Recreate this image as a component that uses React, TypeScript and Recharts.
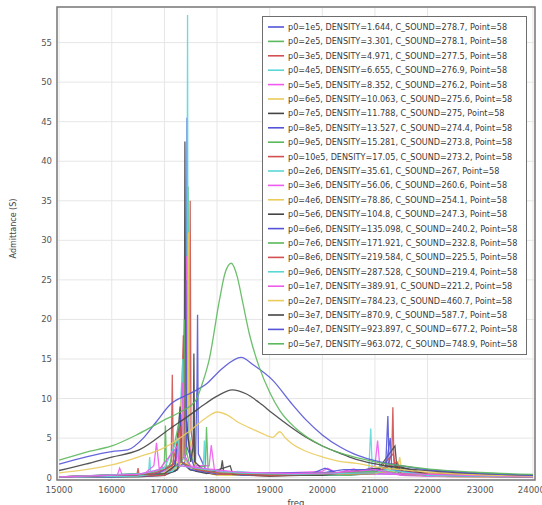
import { LineChart, Line, XAxis, YAxis, CartesianGrid, ReferenceArea } from 'recharts';

type Pt = [number, number];

// axis ticks
const xTicks = [15000, 16000, 17000, 18000, 19000, 20000, 21000, 22000, 23000, 24000];
const yTicks = [0, 5, 10, 15, 20, 25, 30, 35, 40, 45, 50, 55];

const seriesLabels = [
  'p0=1e5, DENSITY=1.644, C_SOUND=278.7, Point=58',
  'p0=2e5, DENSITY=3.301, C_SOUND=278.1, Point=58',
  'p0=3e5, DENSITY=4.971, C_SOUND=277.5, Point=58',
  'p0=4e5, DENSITY=6.655, C_SOUND=276.9, Point=58',
  'p0=5e5, DENSITY=8.352, C_SOUND=276.2, Point=58',
  'p0=6e5, DENSITY=10.063, C_SOUND=275.6, Point=58',
  'p0=7e5, DENSITY=11.788, C_SOUND=275, Point=58',
  'p0=8e5, DENSITY=13.527, C_SOUND=274.4, Point=58',
  'p0=9e5, DENSITY=15.281, C_SOUND=273.8, Point=58',
  'p0=10e5, DENSITY=17.05, C_SOUND=273.2, Point=58',
  'p0=2e6, DENSITY=35.61, C_SOUND=267, Point=58',
  'p0=3e6, DENSITY=56.06, C_SOUND=260.6, Point=58',
  'p0=4e6, DENSITY=78.86, C_SOUND=254.1, Point=58',
  'p0=5e6, DENSITY=104.8, C_SOUND=247.3, Point=58',
  'p0=6e6, DENSITY=135.098, C_SOUND=240.2, Point=58',
  'p0=7e6, DENSITY=171.921, C_SOUND=232.8, Point=58',
  'p0=8e6, DENSITY=219.584, C_SOUND=225.5, Point=58',
  'p0=9e6, DENSITY=287.528, C_SOUND=219.4, Point=58',
  'p0=1e7, DENSITY=389.91, C_SOUND=221.2, Point=58',
  'p0=2e7, DENSITY=784.23, C_SOUND=460.7, Point=58',
  'p0=3e7, DENSITY=870.9, C_SOUND=587.7, Point=58',
  'p0=4e7, DENSITY=923.897, C_SOUND=677.2, Point=58',
  'p0=5e7, DENSITY=963.072, C_SOUND=748.9, Point=58',
];

// matlab style colour order, a bit washed out like the scan
const colorOrder = ['#5454d8', '#5cb85c', '#d25050', '#5ad8d8', '#ee5cee', '#eacb5c', '#444444'];

// (freq, admittance)
const s1e5: Pt[] = [[15000, 0.1], [16000, 0.15], [16800, 0.3], [17200, 0.8], [17390, 2], [17420, 20], [17430, 45.5], [17445, 10], [17490, 2.5], [17590, 2], [17620, 12], [17630, 20.6], [17645, 3], [17800, 0.8], [18500, 0.4], [19500, 0.3], [20200, 0.7], [20400, 0.3], [21000, 0.5], [22500, 0.15], [24000, 0.05]];
const s2e5: Pt[] = [[15000, 0.1], [16500, 0.2], [16900, 0.6], [17000, 2], [17020, 6.6], [17040, 1.5], [17200, 1], [17420, 3], [17450, 36.8], [17470, 4], [17600, 1], [18000, 0.5], [19000, 0.3], [20500, 0.3], [21300, 0.8], [21500, 0.3], [24000, 0.05]];
const s3e5: Pt[] = [[15000, 0.1], [16000, 0.2], [16480, 0.4], [16500, 1.2], [16520, 0.3], [17000, 0.5], [17130, 2], [17150, 13], [17170, 2], [17350, 2.5], [17475, 10], [17490, 35], [17505, 6], [17600, 1], [18000, 0.4], [19000, 0.2], [21200, 0.8], [21320, 3], [21340, 8.9], [21360, 2], [21500, 0.5], [22000, 0.2], [24000, 0.05]];
const s4e5: Pt[] = [[15000, 0.05], [16000, 0.1], [16700, 0.6], [16720, 2.6], [16740, 0.6], [17300, 1.5], [17425, 8], [17440, 58.5], [17452, 6], [17600, 1.2], [17740, 1.5], [17760, 4.7], [17780, 1], [18200, 0.3], [19200, 0.4], [20000, 0.3], [20880, 0.5], [20920, 6.2], [20950, 0.8], [21300, 1.2], [22000, 0.2], [24000, 0.05]];
const s5e5: Pt[] = [[15000, 0.05], [16100, 0.2], [16150, 1.2], [16200, 0.3], [16600, 0.4], [16800, 1.5], [16850, 4.4], [16900, 1.2], [17200, 1.5], [17400, 8], [17420, 28], [17440, 5], [17600, 1.5], [17850, 1.5], [17890, 4.1], [17950, 1], [18300, 0.6], [18700, 0.5], [19300, 0.6], [20000, 0.8], [20100, 1.2], [20300, 0.5], [20500, 1], [20700, 0.6], [21000, 1.5], [21050, 4.7], [21100, 0.8], [21500, 0.3], [22500, 0.1], [24000, 0.05]];
const s6e5: Pt[] = [[15000, 0.1], [16500, 0.2], [17000, 0.4], [17300, 1.5], [17445, 8], [17460, 31], [17475, 5], [17600, 1], [18000, 0.3], [19500, 0.3], [21420, 0.8], [21470, 2.6], [21520, 0.5], [22500, 0.1], [24000, 0.05]];
const s7e5: Pt[] = [[15000, 0.05], [16500, 0.1], [17000, 0.3], [17250, 1], [17375, 6], [17390, 42.5], [17405, 8], [17500, 2], [17548, 4], [17560, 15.7], [17575, 2], [17800, 0.6], [18000, 0.4], [18080, 1.2], [18100, 2.2], [18130, 0.5], [19000, 0.2], [21000, 0.5], [21380, 4], [21420, 1], [22000, 0.4], [24000, 0.1]];
const s8e5: Pt[] = [[15000, 0.05], [16000, 0.1], [17000, 0.3], [17300, 2], [17390, 10], [17405, 25], [17420, 4], [17600, 0.8], [18500, 0.3], [19800, 0.5], [20050, 1.2], [20300, 0.5], [21200, 1], [21245, 7.8], [21270, 1.5], [21500, 0.4], [24000, 0.05]];
const s9e5: Pt[] = [[15000, 0.05], [17000, 0.4], [17300, 3], [17380, 20], [17395, 4], [17500, 1], [17780, 1.5], [17800, 6.4], [17830, 1], [18200, 0.4], [20000, 0.3], [21400, 1.2], [21500, 0.4], [24000, 0.05]];
const s10e5: Pt[] = [[15000, 0.05], [17000, 0.3], [17300, 2], [17360, 18], [17375, 3], [17500, 1], [18000, 0.4], [21000, 0.5], [21350, 3], [21400, 0.8], [24000, 0.05]];
const s2e6: Pt[] = [[15000, 0.05], [16500, 0.2], [17150, 0.8], [17250, 2], [17350, 15], [17365, 3], [17500, 1], [18000, 0.5], [18400, 0.8], [19000, 0.4], [20500, 0.5], [21000, 0.8], [21100, 1.5], [21300, 0.5], [24000, 0.05]];
const s3e6: Pt[] = [[15000, 0.05], [16800, 0.5], [17100, 1], [17280, 3], [17340, 12], [17355, 3], [17500, 1.5], [17950, 0.8], [18600, 0.5], [19500, 0.4], [20200, 0.5], [20600, 1.1], [20800, 0.5], [24000, 0.05]];
const s4e6: Pt[] = [[15000, 0.1], [17000, 0.6], [17250, 2], [17320, 10], [17340, 2.5], [17500, 1.2], [18000, 0.6], [19000, 0.5], [20000, 0.4], [21000, 0.5], [21500, 1.5], [21600, 0.4], [24000, 0.05]];
const s5e6: Pt[] = [[15000, 0.1], [17000, 0.5], [17200, 1.5], [17300, 9], [17320, 2], [17480, 1], [17800, 0.5], [18250, 1.5], [18300, 0.4], [20000, 0.3], [21400, 1.5], [22000, 0.4], [24000, 0.1]];
const s6e6: Pt[] = [[15000, 0.1], [16900, 0.6], [17200, 1.8], [17310, 8], [17330, 2], [17500, 1], [18000, 0.5], [19000, 0.6], [20000, 0.6], [20400, 1], [21200, 1], [21290, 5], [21320, 1], [22000, 0.3], [24000, 0.1]];
const s7e6: Pt[] = [[15000, 0.1], [16700, 0.5], [17100, 1.5], [17280, 7], [17300, 2], [17550, 1.2], [18000, 0.6], [19000, 0.4], [21200, 0.8], [21500, 0.5], [24000, 0.1]];
const s8e6: Pt[] = [[15000, 0.1], [16800, 0.5], [17150, 1.5], [17300, 6.5], [17320, 2], [17600, 1], [18100, 0.5], [19000, 0.3], [21000, 0.6], [21420, 2], [21500, 0.5], [24000, 0.1]];
const s9e6: Pt[] = [[15000, 0.1], [16600, 0.5], [17000, 1.2], [17260, 5], [17280, 1.5], [17600, 1.2], [18400, 0.6], [19500, 0.4], [21000, 0.6], [21200, 1], [22000, 0.3], [24000, 0.1]];
const s1e7: Pt[] = [[15000, 0.1], [16500, 0.4], [16900, 1], [17250, 4], [17280, 1.5], [17700, 1.2], [18400, 0.7], [19400, 0.5], [20200, 0.6], [21000, 1], [21400, 0.5], [24000, 0.1]];
const s2e7: Pt[] = [[15000, 0.6], [15500, 1], [16000, 1.6], [16500, 2.6], [17000, 3.8], [17500, 6], [17800, 7.6], [18000, 8.3], [18200, 7.9], [18400, 7], [18620, 6.3], [18850, 5.6], [19060, 5.1], [19190, 5.8], [19300, 5], [19400, 4.4], [19700, 3.3], [20010, 2.6], [20300, 2.1], [20650, 1.8], [21090, 1.3], [21500, 1], [22000, 0.7], [23000, 0.35], [24000, 0.2]];
const s3e7: Pt[] = [[15000, 0.9], [15500, 1.7], [16000, 2.6], [16520, 3.5], [17150, 6.4], [17500, 8], [17790, 9.4], [18000, 10.3], [18290, 11.1], [18550, 10.6], [18800, 9.5], [19060, 8.1], [19400, 6.4], [19690, 5.1], [20000, 4], [20330, 3.1], [20600, 2.4], [20960, 1.8], [21500, 1.2], [22000, 0.9], [23000, 0.5], [24000, 0.3]];
const s4e7: Pt[] = [[15000, 1.7], [15500, 2.6], [16000, 3.3], [16300, 3.5], [16600, 5], [16840, 7], [17120, 9.3], [17475, 10.6], [17790, 11.8], [18100, 13.8], [18457, 15.2], [18700, 14.2], [19060, 12.3], [19400, 9.5], [19690, 7.3], [20000, 5.4], [20330, 3.9], [20600, 3], [20960, 2.2], [21500, 1.5], [22000, 1], [23000, 0.55], [24000, 0.3]];
const s5e7: Pt[] = [[15000, 2.2], [15500, 3.2], [16000, 4], [16500, 5.5], [17000, 7.3], [17300, 8.3], [17600, 9.8], [17720, 11.9], [17850, 14.9], [18045, 22.4], [18150, 25.8], [18270, 27.1], [18380, 25.5], [18480, 22.4], [18620, 18], [18800, 14], [19000, 10.8], [19190, 8.5], [19500, 6.2], [20000, 4], [20500, 2.8], [21000, 2], [21500, 1.5], [22000, 1.1], [23000, 0.65], [24000, 0.4]];

const seriesPoints: Pt[][] = [
  s1e5, s2e5, s3e5, s4e5, s5e5, s6e5, s7e5, s8e5, s9e5, s10e5,
  s2e6, s3e6, s4e6, s5e6, s6e6, s7e6, s8e6, s9e6, s1e7,
  s2e7, s3e7, s4e7, s5e7,
];

const FONT = '"DejaVu Sans", Verdana, sans-serif';

function LegendBox() {
  return (
    <div
      style={{
        position: 'absolute',
        left: 262,
        top: 16,
        width: 263,
        height: 337,
        border: '1.5px solid #6e6e6e',
        background: '#fff',
      }}
    >
      <svg width={263} height={337}>
        {seriesLabels.map((label, i) => {
          const y = 10 + i * 14.4;
          return (
            <g key={label}>
              <line x1={5} x2={21} y1={y} y2={y} stroke={colorOrder[i % 7]} strokeWidth={1.6} />
              <text x={25} y={y} dominantBaseline="central" fontSize={8.1} fontFamily={FONT} fill="#3a3a3a">
                {label}
              </text>
            </g>
          );
        })}
      </svg>
    </div>
  );
}

export default function App() {
  const series = seriesPoints.map((pts, i) => ({
    name: seriesLabels[i],
    color: colorOrder[i % 7],
    // the high pressure runs are smooth, the rest are sharp resonances
    smooth: i >= 19,
    data: pts.map(([f, v]) => ({ f, v })),
  }));

  return (
    <div style={{ position: 'absolute', left: 0, top: 0, width: 542, height: 505, background: '#fff', fontFamily: FONT }}>
      <LineChart width={542} height={505} margin={{ top: 7, right: 7, bottom: 0, left: 0 }}>
        <CartesianGrid stroke="#e6e6e6" strokeWidth={1} />
        <XAxis
          type="number"
          dataKey="f"
          domain={[14960, 24040]}
          ticks={xTicks}
          allowDataOverflow
          height={25}
          axisLine={false}
          tickLine={false}
          tickSize={0}
          tickMargin={7}
          tick={{ fontSize: 8.5, fill: '#555', fontFamily: FONT }}
          label={{ value: 'freq', position: 'insideBottom', offset: -1, style: { fontSize: 8.5, fill: '#444', fontFamily: FONT } }}
        />
        <YAxis
          type="number"
          domain={[-0.3, 59.5]}
          ticks={yTicks}
          allowDataOverflow
          width={57}
          axisLine={false}
          tickLine={false}
          tickSize={0}
          tickMargin={5}
          tick={{ fontSize: 8.5, fill: '#555', fontFamily: FONT }}
          label={{
            content: (props: any) => {
              const vb = props.viewBox || { x: 0, y: 7, width: 57, height: 473 };
              const x = vb.x + 13;
              const y = vb.y + vb.height / 2 - 15;
              return (
                <text x={x} y={y} transform={`rotate(-90 ${x} ${y})`} textAnchor="middle" dominantBaseline="central" fontSize={8} fill="#444" fontFamily={FONT}>
                  Admittance (S)
                </text>
              );
            },
          }}
        />
        {series.map((s) => (
          <Line
            key={s.name}
            data={s.data}
            dataKey="v"
            name={s.name}
            type={s.smooth ? 'monotone' : 'linear'}
            stroke={s.color}
            strokeWidth={1.3}
            strokeOpacity={0.9}
            dot={false}
            isAnimationActive={false}
          />
        ))}
        <ReferenceArea
          x1={14960}
          x2={24040}
          y1={-0.3}
          y2={59.5}
          fill="none"
          stroke="#7a7a7a"
          strokeWidth={1.5}
          ifOverflow="visible"
        />
      </LineChart>
      <LegendBox />
    </div>
  );
}
